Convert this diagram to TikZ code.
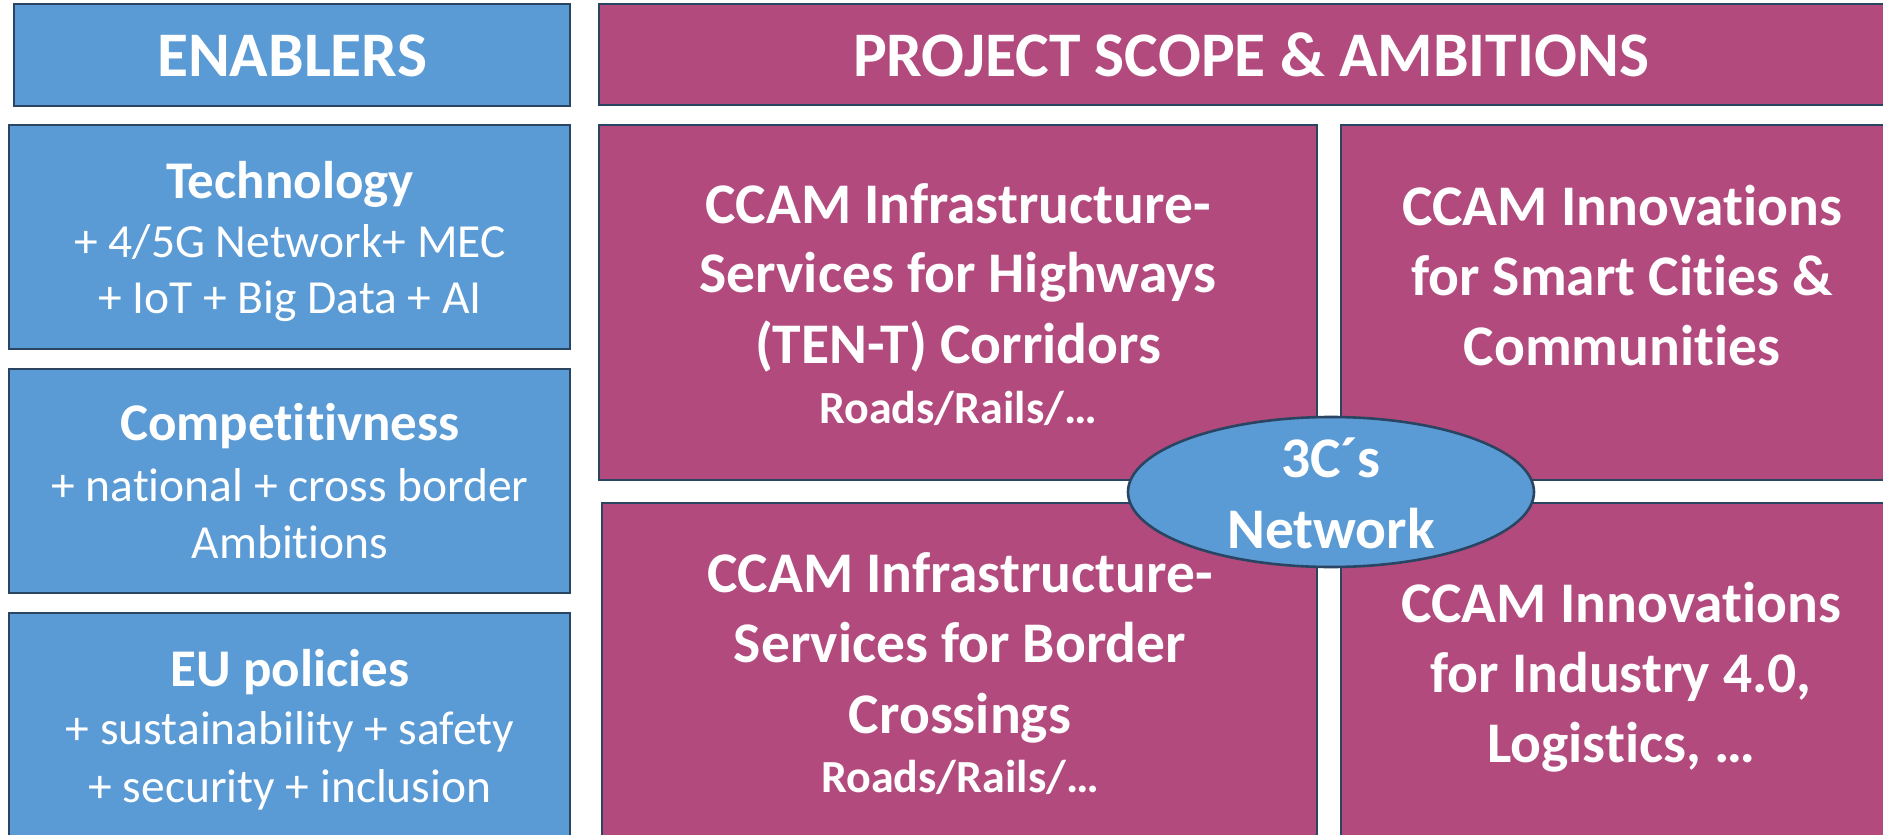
\documentclass[tikz,border=0pt]{standalone}
\usepackage{fontspec}
\setmainfont{Carlito}[Ligatures=NoCommon]
\usetikzlibrary{shapes.geometric}
\definecolor{bluefill}{HTML}{5B9BD5}
\definecolor{pinkfill}{HTML}{B34A7E}
\definecolor{edgecol}{HTML}{2A4562}
\tikzset{
  boxbase/.style={rectangle, draw=edgecol, line width=2.6pt, inner sep=0pt},
  bluebox/.style={boxbase, fill=bluefill},
  pinkbox/.style={boxbase, fill=pinkfill},
  netell/.style={ellipse, draw=edgecol, line width=2.6pt, fill=bluefill, inner sep=0pt, minimum width=406pt, minimum height=150pt},
  txt/.style={text=white, anchor=base, inner sep=0pt},
  title/.style={txt, font=\fontsize{63.5}{75}\selectfont\bfseries},
  head/.style={txt, font=\fontsize{53}{64}\selectfont\bfseries},
  reg/.style={txt, font=\fontsize{47.5}{57}\selectfont},
  big/.style={txt, font=\fontsize{57.5}{70}\selectfont\bfseries},
  small/.style={txt, font=\fontsize{46}{56}\selectfont\bfseries}
}
\begin{document}
\begin{tikzpicture}[x=1pt, y=-1pt]
\useasboundingbox (0,0) rectangle (1883,835);
\clip (0,0) rectangle (1883,835);
\fill[white] (0,0) rectangle (1883,835);
% left column
\node[bluebox, minimum width=556pt, minimum height=102pt] (enab) at (292,55) {};
\node[bluebox, minimum width=561pt, minimum height=224pt] (tech) at (289.5,237) {};
\node[bluebox, minimum width=561pt, minimum height=224pt] (comp) at (289.5,481) {};
\node[bluebox, minimum width=561pt, minimum height=224pt] (eu) at (289.5,725) {};
% right part
\node[pinkbox, minimum width=1304pt, minimum height=101pt] (proj) at (1251,54.5) {};
\node[pinkbox, minimum width=718pt, minimum height=355pt] (p1) at (958,302.5) {};
\node[pinkbox, minimum width=562pt, minimum height=355pt] (p2) at (1622,302.5) {};
\node[pinkbox, minimum width=715pt, minimum height=355pt] (p3) at (959.5,680.5) {};
\node[pinkbox, minimum width=562pt, minimum height=355pt] (p4) at (1622,680.5) {};
\node[netell] (net) at (1331,492) {};
% texts left
\node[title] (tenab) at (292,76) {ENABLERS};
\node[head] (ttech) at (290,198) {Technology};
\node[reg] (ttech2) at (290,257) {+ 4/5G Network+ MEC};
\node[reg] (ttech3) at (290,313) {+ IoT + Big Data + AI};
\node[head] (tcomp) at (290,440) {Competitivness};
\node[reg] (tcomp2) at (290,501) {+ national + cross border};
\node[reg] (tcomp3) at (290,558) {Ambitions};
\node[head] (teu) at (290,686) {EU policies};
\node[reg] (teu2) at (290,744) {+ sustainability + safety};
\node[reg] (teu3) at (290,802) {+ security + inclusion};
% texts right
\node[title] (tproj) at (1251,76) {PROJECT SCOPE \& AMBITIONS};
\node[big] (tp1a) at (958,223) {CCAM Infrastructure-};
\node[big] (tp1b) at (958,292) {Services for Highways};
\node[big] (tp1c) at (958,363) {(TEN-T) Corridors};
\node[small] (tp1d) at (958,423) {Roads/Rails/…};
\node[big] (tp2a) at (1622,225) {CCAM Innovations};
\node[big] (tp2b) at (1622,295) {for Smart Cities \&};
\node[big] (tp2c) at (1622,365) {Communities};
\node[big] (tp3a) at (960,592) {CCAM Infrastructure-};
\node[big] (tp3b) at (960,662) {Services for Border};
\node[big] (tp3c) at (960,733) {Crossings};
\node[small] (tp3d) at (960,792) {Roads/Rails/…};
\node[big] (tp4a) at (1621,622) {CCAM Innovations};
\node[big] (tp4b) at (1621,692) {for Industry 4.0,};
\node[big] (tp4c) at (1621,762) {Logistics, …};
\node[big] (tnet1) at (1331,477) {3C´s};
\node[big] (tnet2) at (1331,548) {Network};
\end{tikzpicture}
\end{document}
